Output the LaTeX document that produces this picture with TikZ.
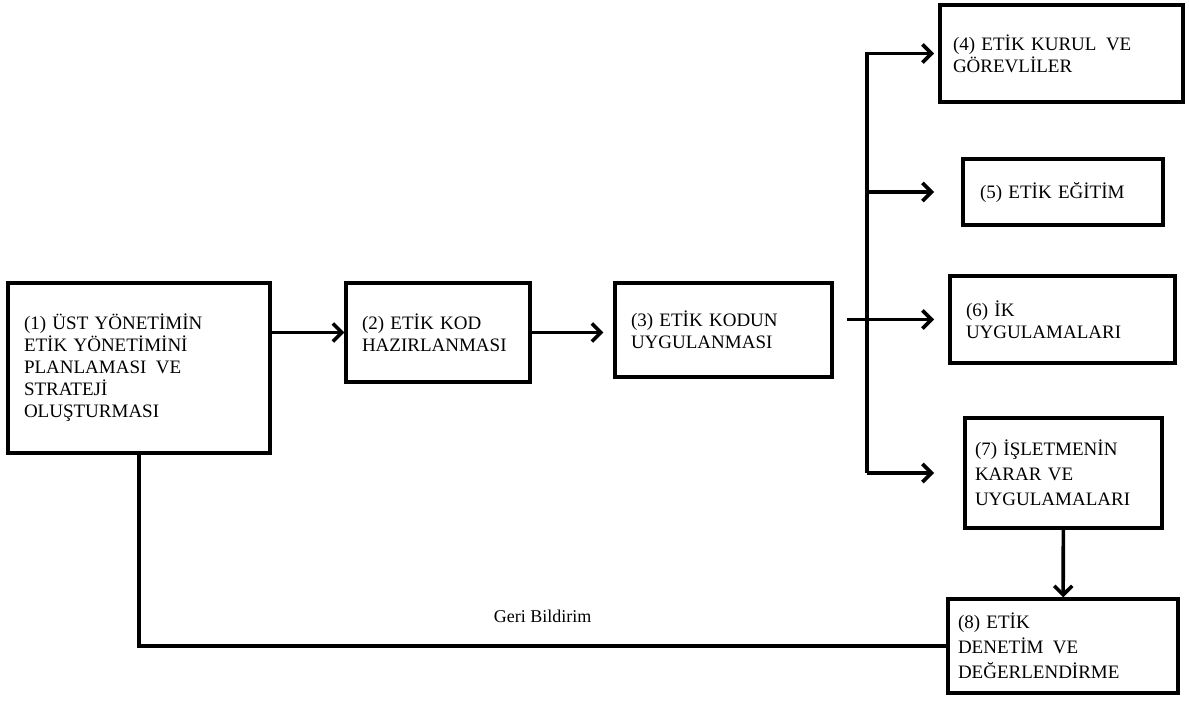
\documentclass[tikz,border=0pt]{standalone}
\usepackage{fontspec}
\setmainfont{Liberation Serif}
\usepackage{tikz}
\usetikzlibrary{positioning}
\usetikzlibrary{arrows.meta,shadows}
\usetikzlibrary{calc}

\begin{document}
\begin{tikzpicture}
    [x=1pt,y=-1pt,
    box/.style={rectangle,draw,line width=3.2pt,fill=white,align=left,inner xsep=16pt,inner ysep=0pt,font=\fontsize{19}{22}\selectfont,drop shadow={opacity=0.25,shadow xshift=1pt, shadow yshift=-1pt}},
    arr/.style={line width=3.6pt,-{Straight Barb[length=9pt,width=18pt]}},
    link/.style={line width=3.6pt}]
    \useasboundingbox (0,0) rectangle (1189,703);
    \node [box,text width=230pt,minimum height=170pt] (Planlama) at (139,368) {(1) ÜST YÖNETİMİN\\ETİK YÖNETİMİNİ\\PLANLAMASI\,\ VE\\STRATEJİ\\OLUŞTURMASI};
    \node [box,text width=152pt,minimum height=99pt] (Kod) at (438,332.5) {(2) ETİK KOD\\HAZIRLANMASI};
    \node [box,text width=185pt,minimum height=94pt] (Uygulama) at (723.5,330) {(3) ETİK KODUN\\UYGULANMASI};
    \node [box,inner xsep=13pt,text width=217pt,minimum height=97pt] (Kurul) at (1061.5,53.5) {(4) ETİK KURUL\,\ VE\\GÖREVLİLER};
    \node [box,inner xsep=17pt,text width=166pt,minimum height=66pt] (Egitim) at (1063,192) {(5) ETİK EĞİTİM};
    \node [box,text width=193pt,minimum height=87pt] (IK) at (1062.5,319.5) {(6) İK\\UYGULAMALARI};
    \node [box,inner xsep=10pt,text width=177pt,minimum height=110pt,font=\fontsize{19}{25}\selectfont] (Karar) at (1063.5,473) {(7) İŞLETMENİN\\KARAR VE\\UYGULAMALARI};
    \node [box,inner xsep=10pt,text width=210pt,minimum height=94pt,font=\fontsize{19}{25}\selectfont] (Denetim) at (1063,646) {(8) ETİK\\DENETİM\,\ VE\\DEĞERLENDİRME};
    \coordinate (Stem) at (867,0);
    \coordinate (Tips) at (934,0);
    \draw[arr] (Planlama.east |- Kod.west) -- (Kod.west);
    \draw[arr,shorten >=10pt] (Kod.east) -- (Uygulama.west |- Kod.east);
    \draw[arr] ([xshift=13pt]Uygulama.east |- IK.west) -- (Tips |- IK.west);
    \draw[arr] (Stem |- Karar.west) |- (Tips |- Kurul.west);
    \draw[arr] (Stem |- Egitim.west) -- (Tips |- Egitim.west);
    \draw[arr] (Stem |- Karar.west) -- (Tips |- Karar.west);
    \draw[arr] (Karar) -- (Denetim);
    \draw[link] (Planlama.south) |- (Denetim.west) node[pos=0.75,above=18pt,font=\fontsize{18}{22}\selectfont] (Geri) {Geri Bildirim};
\end{tikzpicture}
\end{document}
